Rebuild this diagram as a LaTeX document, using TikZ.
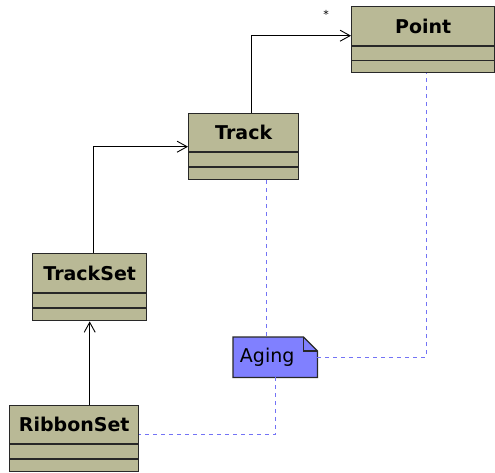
\documentclass[tikz,border=0pt]{standalone}
\usepackage{fontspec}
\setmainfont{DejaVu Sans}
\usetikzlibrary{arrows.meta,calc}

\definecolor{classfill}{RGB}{185,185,150}
\definecolor{classedge}{RGB}{40,40,40}
\definecolor{notefill}{RGB}{128,128,255}
\definecolor{depline}{RGB}{115,115,245}

\tikzset{
  classbox/.style={draw=classedge, fill=classfill, line width=1.4pt,
    anchor=north west, inner sep=0pt},
  classname/.style={font=\bfseries\fontsize{19}{19}\selectfont, inner sep=0pt},
  compart/.style={draw=classedge, line width=1.4pt},
  assoc/.style={draw=black, line width=0.9pt,
    -{Straight Barb[length=10pt,width=11pt,line width=0.9pt]}},
  depend/.style={draw=depline, line width=1.2pt, dash pattern=on 4pt off 4pt},
  notebody/.style={draw=classedge, fill=notefill, line width=1.2pt},
}

% class box: name, left, top, width, header height, total height, title
% (y grows downwards in this picture)
\newcommand{\umlclass}[7]{%
  \node[classbox, minimum width=#4pt, minimum height=#6pt] (#1) at (#2,#3) {};
  \node[classname] (#1name) at ($(#1.north)+(0,#5/2)$) {#7};
  \draw[compart] ($(#1.north west)+(0,#5)$) -- ($(#1.north east)+(0,#5)$);
  \draw[compart] ($(#1.south west)+(0,{-(#6-#5)/2})$) -- ($(#1.south east)+(0,{-(#6-#5)/2})$);
}

\begin{document}
\begin{tikzpicture}[x=1pt,y=-1pt]
\useasboundingbox (0,0) rectangle (495,473);

\umlclass{point}{351}{6}{143}{40}{66}{Point}
\umlclass{track}{188}{113}{110}{39}{66}{Track}
\umlclass{trackset}{32}{253}{114}{40}{67}{TrackSet}
\umlclass{ribbonset}{9}{405}{129}{39}{66}{RibbonSet}

% note with folded corner
\node[minimum width=84pt, minimum height=40pt, inner sep=0pt, anchor=north west] (aging) at (233,337) {};
\draw[notebody] (aging.north west) -- ($(aging.north east)+(-14,0)$)
  -- ($(aging.north east)+(0,14)$) -- (aging.south east) -- (aging.south west) -- cycle;
\draw[classedge, line width=1.2pt] ($(aging.north east)+(-14,0)$) |- ($(aging.north east)+(0,14)$);
\node[font=\fontsize{19}{19}\selectfont, inner sep=0pt] (agingtext) at ($(aging.center)+(-8,0)$) {Aging};

% associations
\draw[assoc] ([xshift=8pt]track.north) |- ([yshift=4pt]point.west);
\node[font=\fontsize{11}{11}\selectfont, inner sep=0pt] (mult) at (326,14) {*};
\draw[assoc] ([xshift=4pt]trackset.north) |- (track.west);
\draw[assoc] (trackset.south |- ribbonset.north) -- (trackset.south);

% note attachments
\draw[depend] ([xshift=23pt]track.south) -- ([xshift=23pt]track.south |- aging.north);
\draw[depend] (aging.east) -| ([xshift=3pt]point.south);
\draw[depend] (aging.south) |- ([yshift=4pt]ribbonset.east);
\end{tikzpicture}
\end{document}
